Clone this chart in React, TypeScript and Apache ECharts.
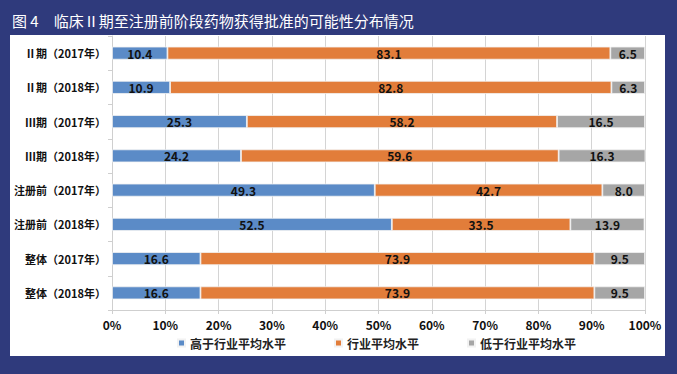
import React, { useEffect, useRef } from "react";
import * as echarts from "echarts";

const categories = [
  "Ⅱ期（2017年）",
  "Ⅱ期（2018年）",
  "Ⅲ期（2017年）",
  "Ⅲ期（2018年）",
  "注册前（2017年）",
  "注册前（2018年）",
  "整体（2017年）",
  "整体（2018年）",
];
const above = [10.4, 10.9, 25.3, 24.2, 49.3, 52.5, 16.6, 16.6];
const average = [83.1, 82.8, 58.2, 59.6, 42.7, 33.5, 73.9, 73.9];
const below = [6.5, 6.3, 16.5, 16.3, 8.0, 13.9, 9.5, 9.5];
const seriesNames = ["高于行业平均水平", "行业平均水平", "低于行业平均水平"];
const colors = ["#5b8bc7", "#e27d3a", "#a6a6a6"];
const titleText = "图 4　临床Ⅱ期至注册前阶段药物获得批准的可能性分布情况";

const FONT = '"Noto Sans CJK SC", "Noto Sans", sans-serif';

export default function App() {
  const ref = useRef<HTMLDivElement>(null);
  useEffect(() => {
    if (!ref.current) return;
    const chart = echarts.init(ref.current, null, { renderer: "svg" });
    const data = [above, average, below];
    chart.setOption({
      animation: false,
      backgroundColor: "#2f3a7c",
      textStyle: { fontFamily: FONT },
      title: {
        text: titleText,
        left: 7,
        top: 8,
        textStyle: { color: "#ffffff", fontSize: 15, fontWeight: "normal", fontFamily: FONT },
      },
      graphic: [
        {
          type: "rect",
          left: 10,
          top: 35,
          shape: { width: 655, height: 321 },
          style: { fill: "#ffffff" },
          z: -10,
          silent: true,
        },
      ],
      grid: { left: 112, right: 32, top: 36, bottom: 64, containLabel: false },
      legend: {
        data: seriesNames,
        left: 172,
        top: 332,
        icon: "rect",
        itemWidth: 7,
        itemHeight: 7,
        itemGap: 48,
        textStyle: { fontSize: 12, color: "#222", fontWeight: "bold", fontFamily: FONT },
      },
      xAxis: {
        type: "value",
        min: 0,
        max: 100,
        interval: 10,
        axisLabel: {
          formatter: "{value}%",
          color: "#111",
          fontSize: 12,
          fontWeight: "bold",
          margin: 8,
          fontFamily: FONT,
        },
        axisLine: { show: true, lineStyle: { color: "#cfcfcf" } },
        axisTick: { show: true, length: 4, lineStyle: { color: "#cfcfcf" } },
        splitLine: { show: true, lineStyle: { color: "#d4d4d4", width: 1 } },
      },
      yAxis: {
        type: "category",
        data: categories,
        inverse: true,
        axisLine: { show: true, lineStyle: { color: "#cfcfcf" } },
        axisTick: { show: true, length: 4, lineStyle: { color: "#cfcfcf" } },
        axisLabel: {
          color: "#111",
          fontSize: 11,
          fontWeight: "bold",
          margin: 6,
          fontFamily: FONT,
        },
      },
      series: seriesNames.map((name, i) => ({
        name,
        type: "bar",
        stack: "total",
        barWidth: 13,
        data: data[i],
        itemStyle: { color: colors[i], borderColor: "#f2f2f2", borderWidth: 0.8 },
        label: {
          show: true,
          position: "inside",
          formatter: (p: any) => Number(p.value).toFixed(1),
          color: "#111",
          fontSize: 12,
          fontWeight: "bold",
          fontFamily: FONT,
        },
      })),
    });
    return () => chart.dispose();
  }, []);
  return (
    <div
      ref={ref}
      style={{ position: "fixed", left: 0, top: 0, width: 677, height: 374 }}
    />
  );
}
